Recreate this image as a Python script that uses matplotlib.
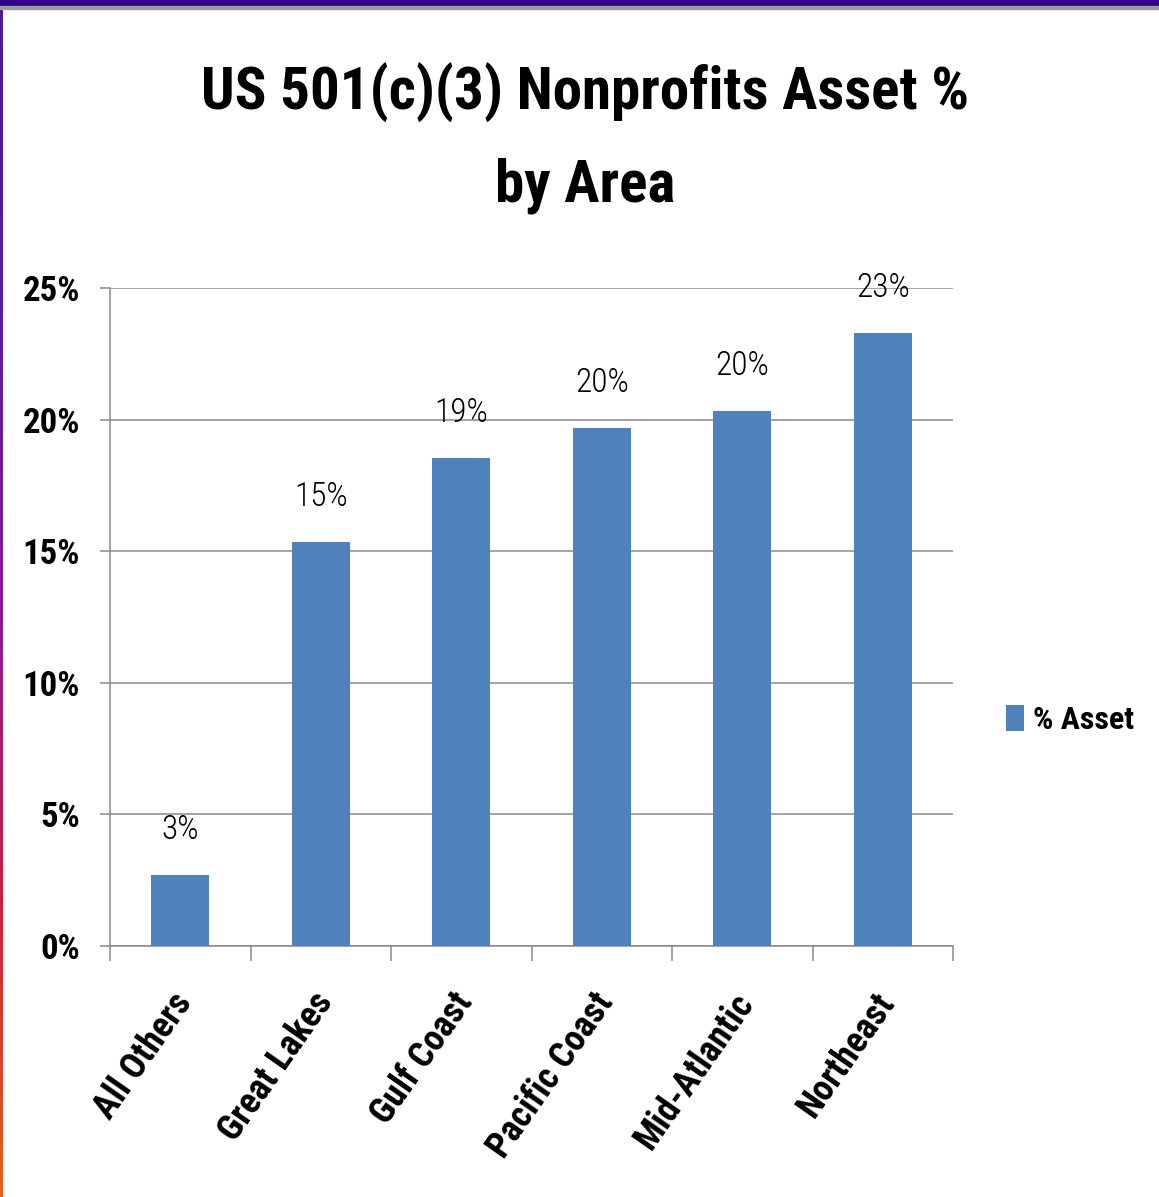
import numpy as np
import matplotlib
matplotlib.use("Agg")
import matplotlib.pyplot as plt
from matplotlib import font_manager as fm
from matplotlib.colors import LinearSegmentedColormap
from matplotlib.ticker import FuncFormatter, FixedLocator
from matplotlib.transforms import ScaledTranslation

# ---- data ----
categories = ["All Others", "Great Lakes", "Gulf Coast", "Pacific Coast", "Mid-Atlantic", "Northeast"]
asset_pct = [2.70, 15.35, 18.54, 19.68, 20.33, 23.29]
series_name = "% Asset"
title_text = "US 501(c)(3) Nonprofits Asset %\nby Area"
y_ticks = [0, 5, 10, 15, 20, 25]

# ---- font selection ----
names = {f.name for f in fm.fontManager.ttflist}
fam, stretch = "DejaVu Sans", "condensed"
for cand in ["Liberation Sans Narrow", "Roboto Condensed", "Open Sans Condensed"]:
    if cand in names:
        fam, stretch = cand, "normal"
        break
plt.rcParams["font.family"] = [fam, "DejaVu Sans"]
plt.rcParams["font.stretch"] = stretch

W, H = 1159, 1197
fig = plt.figure(figsize=(W / 100, H / 100), dpi=100)
fig.patch.set_facecolor("white")

px = 72 / 100  # points per pixel

ax = fig.add_axes([110 / W, 1 - 946 / H, (953 - 110) / W, (946 - 288) / H])
x = np.arange(len(categories))
bar_color = "#4F81BD"
bars = ax.bar(x, asset_pct, width=0.41, color=bar_color, label=series_name, zorder=3)

ax.set_xlim(-0.5, len(categories) - 0.5)
ax.set_ylim(0, 25)
grid_c = "#888888"
ax.yaxis.set_major_locator(FixedLocator(y_ticks))
ax.yaxis.set_major_formatter(FuncFormatter(lambda v, p: f"{v:.0f}%"))
ax.grid(axis="y", color=grid_c, linewidth=1.5 * px, zorder=0)
ax.set_axisbelow(True)
for s in ["top", "right"]:
    ax.spines[s].set_visible(False)
for s in ["left", "bottom"]:
    ax.spines[s].set_color(grid_c)
    ax.spines[s].set_linewidth(1.5 * px)

ax.tick_params(axis="y", direction="out", length=10 * px, width=1.5 * px, color=grid_c,
               labelsize=25, pad=20 * px)
for lab in ax.get_yticklabels():
    lab.set_fontweight("bold")

ax.set_xticks(x)
ax.set_xticks(np.arange(-0.5, len(categories)), minor=True)
ax.tick_params(axis="x", which="major", length=0, pad=40 * px, labelsize=26)
ax.tick_params(axis="x", which="minor", direction="out", length=15 * px, width=1.5 * px, color=grid_c)
ax.set_xticklabels(categories, rotation=55, ha="right", rotation_mode="anchor", fontweight="bold")
shift = ScaledTranslation(-10 / 100, 0, fig.dpi_scale_trans)
for lab in ax.get_xticklabels():
    lab.set_transform(lab.get_transform() + shift)

for xi, v in zip(x, asset_pct):
    ax.annotate(f"{round(v)}%", (xi, v), xytext=(0, 45 * px), textcoords="offset points",
                ha="center", va="center", fontsize=24, fontweight="light", color="black", zorder=5,
                annotation_clip=False)

fig.text(585 / W, 1 - 138.5 / H, title_text, ha="center", va="center", fontsize=42.5,
         fontweight="bold", linespacing=1.77)

leg = fig.legend(handles=[bars], labels=[series_name], loc="center left",
                 bbox_to_anchor=(1006 / W, 1 - 720 / H), frameon=False, borderpad=0,
                 borderaxespad=0, handlelength=0.55, handleheight=0.85, handletextpad=0.3,
                 prop={"size": 23, "weight": "bold"})

# top band and left border
fig.add_artist(plt.Rectangle((0, 1 - 6 / H), 1, 6 / H, transform=fig.transFigure,
                             color="#2E0087", zorder=10))
fig.add_artist(plt.Rectangle((0, 1 - 9 / H), 1, 3 / H, transform=fig.transFigure,
                             color="#9A9A9A", zorder=10))
lax = fig.add_axes([0, 0, 3 / W, 1 - 6 / H])
cmap = LinearSegmentedColormap.from_list("edge", ["#E8601C", "#D01C3C", "#8A1A9A", "#5A1AA0", "#4A1A9A"])
lax.imshow(np.linspace(0, 1, 256).reshape(-1, 1), aspect="auto", cmap=cmap, origin="lower")
lax.set_axis_off()

fig.savefig("out.png", dpi=100, facecolor="white")
